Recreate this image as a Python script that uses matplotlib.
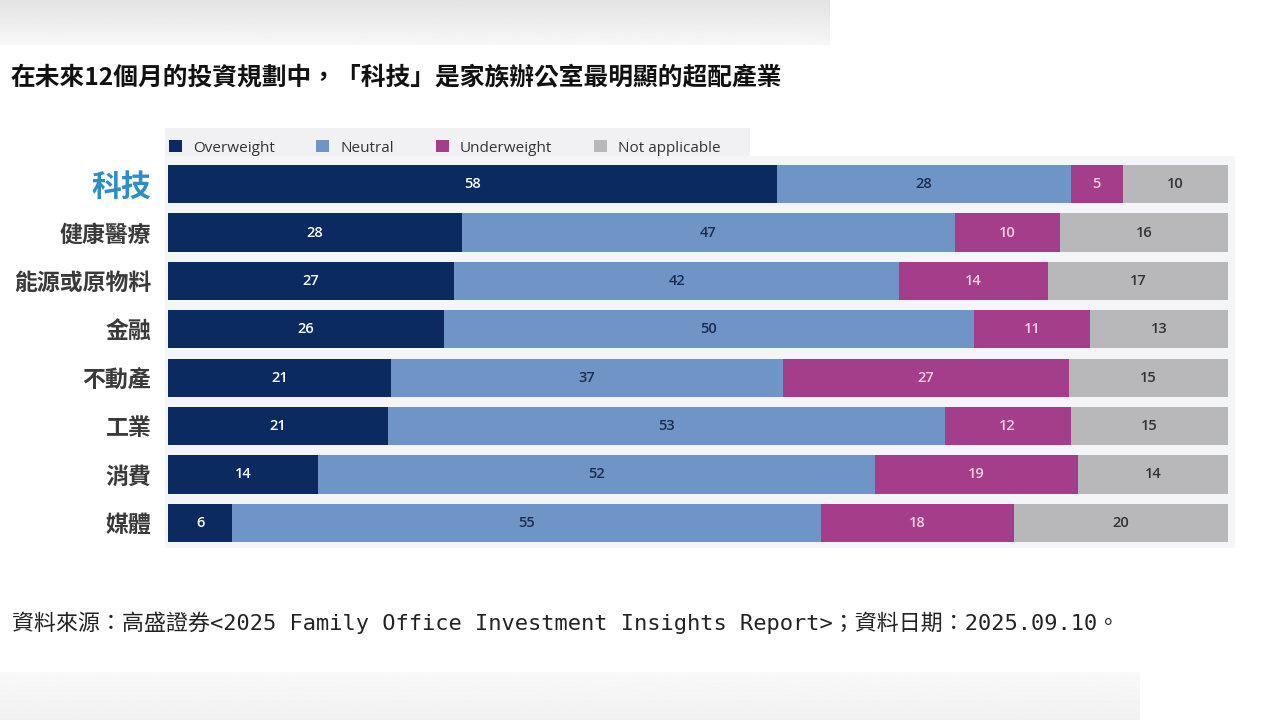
import matplotlib.pyplot as plt
import numpy as np
from matplotlib.patches import Rectangle

categories = ['科技', '健康醫療', '能源或原物料', '金融', '不動產', '工業', '消費', '媒體']
overweight = [58, 28, 27, 26, 21, 21, 14, 6]
neutral = [28, 47, 42, 50, 37, 53, 52, 55]
underweight = [5, 10, 14, 11, 27, 12, 19, 18]
not_applicable = [10, 16, 17, 13, 15, 15, 14, 20]
series_names = ['Overweight', 'Neutral', 'Underweight', 'Not applicable']

title = '在未來12個月的投資規劃中，「科技」是家族辦公室最明顯的超配產業'
footer = '資料來源：高盛證券<2025 Family Office Investment Insights Report>；資料日期：2025.09.10。'

colors = ['#0b2a5f', '#6f95c6', '#a43e8a', '#b8b8bb']
label_colors = ['#ffffff', '#1b2d4f', '#f3cde4', '#333333']

plt.rcParams['font.family'] = ['Open Sans', 'Noto Sans CJK TC', 'DejaVu Sans']

fig = plt.figure(figsize=[12.8, 7.2], dpi=100)
fig.patch.set_facecolor('white')

# blurred grey bands at top and bottom of the screenshot
grad = np.linspace(0, 1, 50)[:, None]
band_top = fig.add_axes([0, 1 - 45 / 720, 830 / 1280, 45 / 720])
band_top.imshow(0.89 + 0.08 * grad, cmap='gray', vmin=0, vmax=1, aspect='auto')
band_top.axis('off')
band_bot = fig.add_axes([0, 0, 1140 / 1280, 48 / 720])
band_bot.imshow(0.975 - 0.03 * grad, cmap='gray', vmin=0, vmax=1, aspect='auto')
band_bot.axis('off')

# panel backgrounds
fig.add_artist(Rectangle((165 / 1280, 1 - 160 / 720), 585 / 1280, 32 / 720,
                         transform=fig.transFigure, facecolor='#f1f1f3', edgecolor='none', zorder=0))
fig.add_artist(Rectangle((165 / 1280, 1 - 548 / 720), 1070 / 1280, 392 / 720,
                         transform=fig.transFigure, facecolor='#f4f5f8', edgecolor='none', zorder=0))

ax = fig.add_axes([168 / 1280, 1 - 547 / 720, 1060 / 1280, 387 / 720])
ax.set_facecolor('none')

data = np.array([overweight, neutral, underweight, not_applicable], dtype=float)
totals = data.sum(axis=0)
shares = data / totals * 100
y = np.arange(len(categories))
left = np.zeros(len(categories))
handles = []
for k in range(4):
    bars = ax.barh(y, shares[k], left=left, height=0.79, color=colors[k], label=series_names[k])
    handles.append(bars)
    for i in range(len(categories)):
        ax.text(left[i] + shares[k][i] / 2, y[i], str(int(data[k][i])), ha='center', va='center',
                color=label_colors[k], fontsize=10.5, fontweight='semibold')
    left += shares[k]

ax.set_xlim(0, 100)
ax.set_ylim(len(categories) - 0.5, -0.5)
ax.set_xticks([])
ax.set_yticks(y)
ax.set_yticklabels(categories)
for i, lab in enumerate(ax.get_yticklabels()):
    lab.set_fontweight('bold')
    if i == 0:
        lab.set_fontsize(21.5)
        lab.set_color('#2b8fc6')
    else:
        lab.set_fontsize(16.5)
        lab.set_color('#3a3a3a')
ax.tick_params(axis='y', length=0, pad=12)
for s in ax.spines.values():
    s.set_visible(False)

leg = fig.legend(handles=handles, loc='center left', bbox_to_anchor=(155 / 1280, 1 - 148 / 720),
                 ncol=4, frameon=False, fontsize=11, handlelength=0.85, handleheight=0.85,
                 handletextpad=0.75, columnspacing=2.7)
for t in leg.get_texts():
    t.set_color('#333333')

fig.text(10 / 1280, 1 - 77 / 720, title, fontsize=17.8, fontweight='bold', color='#111111',
         va='center', ha='left', family=['Noto Sans CJK TC'])
fig.text(12 / 1280, 1 - 623 / 720, footer, fontsize=15.8, color='#222222',
         va='center', ha='left', family=['DejaVu Sans Mono', 'Noto Sans CJK TC'])

fig.savefig('out.png', dpi=100)
